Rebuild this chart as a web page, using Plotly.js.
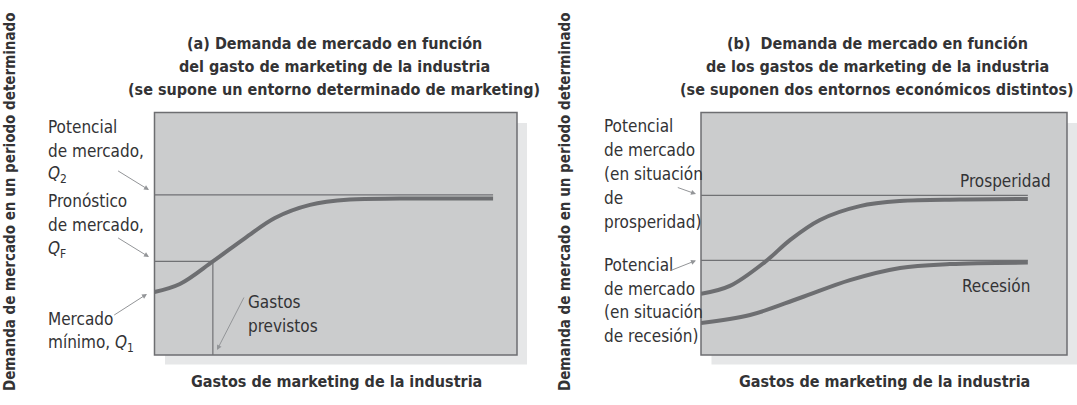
<!DOCTYPE html>
<html><head><meta charset="utf-8">
<script src="https://cdn.plot.ly/plotly-3.0.1.min.js"></script>
<style>html,body{margin:0;padding:0;background:#fff;} #chart{width:1077px;height:405px;}</style>
</head><body><div id="chart"></div>
<script>
// ---------- data (panel a) ----------
const spendA = [0, 7, 16.1, 25, 33.2, 42.9, 53.9, 67.7, 93.4];
const demandA = [26.0, 29.3, 38.6, 48.2, 56.5, 61.9, 64.1, 64.5, 64.5];
const potentialA = 66.0;      // Q2
const forecastA = 38.6;       // QF
const plannedSpendA = 16.1;   // gastos previstos
const lineEndA = 93.4;

// ---------- data (panel b) ----------
const spendProsB = [0, 7.9, 17.5, 24.3, 32.5, 43.4, 54.4, 70.8, 89.3];
const prosperityB = [25.2, 28.5, 38.4, 47.4, 55.7, 61.4, 63.5, 64.1, 64.3];
const spendRecB = [0, 13.4, 27, 40.7, 54.4, 68, 89.3];
const recessionB = [13.2, 16.5, 23.5, 30.9, 35.9, 37.5, 38.1];
const potentialProsperityB = 65.8;
const potentialRecessionB = 39.0;
const lineEndB = 89.3;

// ---------- text ----------
const titleA = ['(a) Demanda de mercado en función', 'del gasto de marketing de la industria', '(se supone un entorno determinado de marketing)'];
const titleB = ['(b)  Demanda de mercado en función', 'de los gastos de marketing de la industria', '(se suponen dos entornos económicos distintos)'];
const yTitle = 'Demanda de mercado en un periodo determinado';
const xTitle = 'Gastos de marketing de la industria';

// ---------- styling ----------
const W = 1077, H = 405;
const FONT = 'DejaVu Sans Condensed, Liberation Sans Narrow, sans-serif';
const TXT = '#333335';
const CURVE = '#6d6e71';
const REF = '#707174';
const ARROW = '#939598';
const px = v => v / W;
const py = v => 1 - v / H;

const boxA = [154.5, 517], boxB = [701, 1067], boxY = [112.5, 355];

function ref(x, y, xa, ya) {
  return {x, y, xaxis: xa, yaxis: ya, mode: 'lines', line: {color: REF, width: 1.2}, hoverinfo: 'skip', showlegend: false};
}
function curve(x, y, xa, ya) {
  return {x, y, xaxis: xa, yaxis: ya, mode: 'lines', line: {color: CURVE, width: 4, shape: 'spline', smoothing: 1}, hoverinfo: 'skip', showlegend: false};
}

const traces = [
  ref([0, lineEndA], [potentialA, potentialA], 'x', 'y'),
  ref([0, plannedSpendA], [forecastA, forecastA], 'x', 'y'),
  ref([plannedSpendA, plannedSpendA], [0, forecastA], 'x', 'y'),
  curve(spendA, demandA, 'x', 'y'),
  ref([0, lineEndB], [potentialProsperityB, potentialProsperityB], 'x2', 'y2'),
  ref([0, lineEndB], [potentialRecessionB, potentialRecessionB], 'x2', 'y2'),
  curve(spendProsB, prosperityB, 'x2', 'y2'),
  curve(spendRecB, recessionB, 'x2', 'y2')
];

function rect(x0, x1, y0, y1, fill, line) {
  return {type: 'rect', xref: 'paper', yref: 'paper', x0: px(x0), x1: px(x1), y0: py(y1), y1: py(y0),
          fillcolor: fill, line: line ? {color: line, width: 1.5} : {width: 0}, layer: 'below'};
}
const shapes = [
  rect(boxA[0] + 10.5, boxA[1] + 10, boxY[0] + 10.5, boxY[1] + 9.5, '#e6e7e8'),
  rect(boxB[0] + 10.5, boxB[1] + 10, boxY[0] + 10.5, boxY[1] + 9.5, '#e6e7e8'),
  rect(boxA[0], boxA[1], boxY[0], boxY[1], '#cbcccd', '#6d6e71'),
  rect(boxB[0], boxB[1], boxY[0], boxY[1], '#cbcccd', '#6d6e71')
];

const regular = {family: FONT, size: 17, color: TXT};
const bold = {family: FONT, size: 16, color: TXT, weight: 'bold'};

function label(text, x, y, opts) {
  return Object.assign({text, x: px(x), y: py(y), xref: 'paper', yref: 'paper', showarrow: false,
    xanchor: 'left', yanchor: 'middle', align: 'left', font: regular}, opts || {});
}
// one annotation per line, to control line spacing
function lines(arr, x, yFirst, step, opts) {
  return arr.map((t, i) => label(t, x, yFirst + i * step, opts));
}
function arrow(x0, y0, x1, y1) {
  return {text: '', x: px(x1), y: py(y1), xref: 'paper', yref: 'paper', showarrow: true,
    ax: x0 - x1, ay: y0 - y1, arrowhead: 2, arrowsize: 1, arrowwidth: 1, arrowcolor: ARROW, standoff: 0, startstandoff: 0};
}

const annotations = [].concat(
  lines(titleA, 334, 43, 23.3, {xanchor: 'center', font: bold}),
  lines(titleB, 877, 43, 23.3, {xanchor: 'center', font: bold}),
  [
    label(xTitle, 336, 381, {xanchor: 'center', font: bold}),
    label(xTitle, 884, 381, {xanchor: 'center', font: bold}),
    label(yTitle, 10, 202, {xanchor: 'center', textangle: -90, font: Object.assign({}, bold, {size: 15})}),
    label(yTitle, 565, 202, {xanchor: 'center', textangle: -90, font: Object.assign({}, bold, {size: 15})})
  ],
  // panel a labels
  lines(['Potencial', 'de mercado,', '<i>Q</i><sub>2</sub>'], 46, 127, 24),
  lines(['Pronóstico', 'de mercado,', '<i>Q</i><sub>F</sub>'], 46, 201, 24),
  lines(['Mercado', 'mínimo, <i>Q</i><sub>1</sub>'], 46, 319, 24),
  lines(['Gastos', 'previstos'], 246, 302, 24),
  [
    arrow(116.6, 170, 149, 190),
    arrow(116.6, 237, 149, 257),
    arrow(112.7, 316, 147, 294),
    arrow(244.7, 296, 217, 350)
  ],
  // panel b labels
  lines(['Potencial', 'de mercado', '(en situación', 'de', 'prosperidad)'], 602, 126, 24),
  lines(['Potencial', 'de mercado', '(en situación', 'de recesión)'], 602, 265, 23.7),
  [
    label('Prosperidad', 1005, 181, {xanchor: 'center'}),
    label('Recesión', 996, 286, {xanchor: 'center'}),
    arrow(676.3, 187, 696, 194),
    arrow(669.5, 271, 696, 260.5)
  ]
);

const axisCommon = {range: [0, 100], visible: false, fixedrange: true, showgrid: false, zeroline: false};
const layout = {
  width: W, height: H,
  margin: {l: 0, r: 0, t: 0, b: 0},
  paper_bgcolor: '#ffffff', plot_bgcolor: 'rgba(0,0,0,0)',
  showlegend: false,
  xaxis: Object.assign({}, axisCommon, {domain: [px(boxA[0]), px(boxA[1])], anchor: 'y'}),
  yaxis: Object.assign({}, axisCommon, {domain: [py(boxY[1]), py(boxY[0])], anchor: 'x'}),
  xaxis2: Object.assign({}, axisCommon, {domain: [px(boxB[0]), px(boxB[1])], anchor: 'y2'}),
  yaxis2: Object.assign({}, axisCommon, {domain: [py(boxY[1]), py(boxY[0])], anchor: 'x2'}),
  shapes, annotations
};
Plotly.newPlot('chart', traces, layout, {displayModeBar: false, staticPlot: true});
</script></body></html>
